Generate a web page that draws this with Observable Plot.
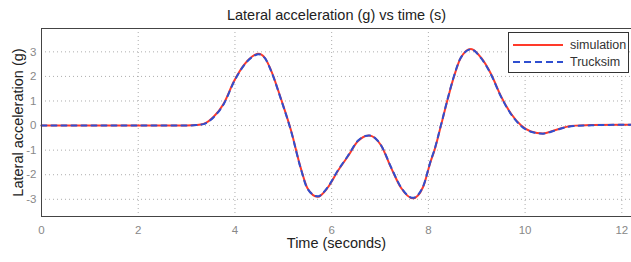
<!DOCTYPE html>
<html>
<head>
<meta charset="utf-8">
<script src="https://cdn.jsdelivr.net/npm/d3@7"></script>
<script src="https://cdn.jsdelivr.net/npm/@observablehq/plot@0.6"></script>
<style>
  body { margin: 0; background: #fff; }
  #wrap { position: relative; width: 631px; height: 262px; font-family: "Liberation Sans", Arial, sans-serif; }
  #legend { position: absolute; left: 508px; top: 32px; width: 121px; height: 41px; background: #fff; border: 1px solid #333; box-sizing: border-box; font-size: 12.5px; color: #333; }
  #legend .row { position: absolute; left: 4px; display: flex; align-items: center; }
  #legend svg { margin-right: 5px; }
</style>
</head>
<body>
<div id="wrap"></div>
<script>
const time = [0, 1, 2, 3, 3.2, 3.35, 3.56, 3.77, 3.98, 4.18, 4.35, 4.49, 4.62, 4.74, 4.95, 5.16, 5.36, 5.5, 5.71, 5.92, 6.13, 6.34, 6.54, 6.77, 7.02, 7.23, 7.43, 7.68, 7.89, 8.05, 8.12, 8.26, 8.4, 8.53, 8.67, 8.88, 9.09, 9.3, 9.5, 9.71, 9.92, 10.12, 10.37, 10.6, 10.95, 11.37, 12, 12.2];
const simulation = [0, 0, 0, 0, 0.02, 0.07, 0.36, 0.9, 1.8, 2.45, 2.8, 2.92, 2.75, 2.28, 1.1, -0.2, -1.72, -2.55, -2.9, -2.52, -1.84, -1.24, -0.64, -0.4, -0.8, -1.72, -2.52, -2.96, -2.5, -1.44, -1.04, 0, 1.08, 2.0, 2.76, 3.12, 2.76, 2.08, 1.2, 0.48, 0, -0.24, -0.32, -0.2, -0.02, 0.02, 0.03, 0.03];
const trucksim = [0, 0, 0, 0, 0.02, 0.06, 0.34, 0.88, 1.78, 2.43, 2.78, 2.9, 2.74, 2.26, 1.08, -0.22, -1.74, -2.57, -2.88, -2.5, -1.82, -1.22, -0.62, -0.4, -0.8, -1.7, -2.5, -2.94, -2.48, -1.42, -1.02, 0.02, 1.1, 2.02, 2.76, 3.1, 2.74, 2.06, 1.18, 0.46, -0.02, -0.25, -0.33, -0.21, -0.03, 0.01, 0.03, 0.03];
const xTicks = [0, 2, 4, 6, 8, 10, 12];
const yTicks = [-3, -2, -1, 0, 1, 2, 3];
const title = "Lateral acceleration (g) vs time (s)";
const xLabel = "Time (seconds)";
const yLabel = "Lateral acceleration (g)";
const seriesNames = ["simulation", "Trucksim"];

const simData = time.map((t, i) => ({t, v: simulation[i]}));
const truckData = time.map((t, i) => ({t, v: trucksim[i]}));

const chart = Plot.plot({
  width: 631,
  height: 262,
  marginLeft: 41,
  marginRight: 0,
  marginTop: 28,
  marginBottom: 46,
  style: { fontFamily: "Liberation Sans, Arial, sans-serif", background: "#fff" },
  x: { domain: [0, 12.2] },
  y: { domain: [-3.7, 3.95] },
  marks: [
    Plot.ruleX(xTicks, { stroke: "#999", strokeDasharray: "1,3", strokeOpacity: 0.8 }),
    Plot.ruleY(yTicks, { stroke: "#999", strokeDasharray: "1,3", strokeOpacity: 0.8 }),
    Plot.axisX({ ticks: xTicks, tickSize: 0, tickPadding: 9, fontSize: 11.5, fill: "#888", label: null, tickFormat: d => String(d) }),
    Plot.axisY({ ticks: yTicks, tickSize: 0, tickPadding: 5, fontSize: 11.5, fill: "#888", label: null, tickFormat: d => String(d) }),
    Plot.line(simData, { x: "t", y: "v", stroke: "#ff3a2a", strokeWidth: 2, curve: "monotone-x" }),
    Plot.line(truckData, { x: "t", y: "v", stroke: "#2f4fd0", strokeWidth: 2, strokeDasharray: "5,5", curve: "monotone-x" }),
    Plot.frame({ stroke: "#444" }),
    Plot.text([title], { text: d => d, frameAnchor: "top", lineAnchor: "middle", dy: -13, fontSize: 14.5, fill: "#222" }),
    Plot.text([xLabel], { text: d => d, frameAnchor: "bottom", lineAnchor: "middle", dy: 27, fontSize: 14.5, fill: "#222" }),
    Plot.text([yLabel], { text: d => d, frameAnchor: "left", textAnchor: "middle", lineAnchor: "middle", dx: -23, rotate: -90, fontSize: 14.5, fill: "#222" })
  ]
});
const wrap = document.getElementById("wrap");
wrap.appendChild(chart);

const legend = document.createElement("div");
legend.id = "legend";
legend.innerHTML = `
  <div class="row" style="top:5px"><svg width="52" height="10"><line x1="0" y1="5" x2="50" y2="5" stroke="#ff3a2a" stroke-width="2"/></svg><span>${seriesNames[0]}</span></div>
  <div class="row" style="top:22px"><svg width="52" height="10"><line x1="0" y1="5" x2="50" y2="5" stroke="#2f4fd0" stroke-width="2" stroke-dasharray="7,4"/></svg><span>${seriesNames[1]}</span></div>`;
wrap.appendChild(legend);
</script>
</body>
</html>
